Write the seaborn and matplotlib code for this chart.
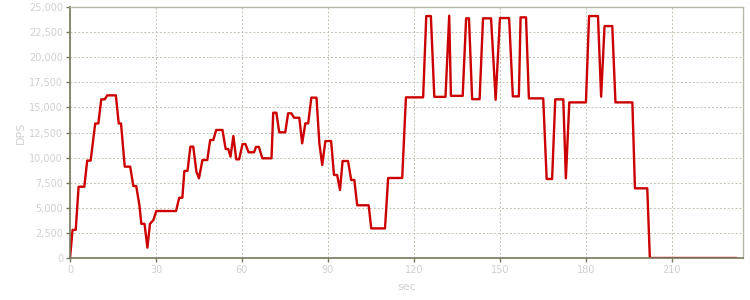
import matplotlib
matplotlib.use("Agg")
import matplotlib.pyplot as plt
from matplotlib.ticker import FuncFormatter
import seaborn as sns
import pandas as pd

sec = [0, 0.9, 2, 3, 5, 6, 7.2, 8.8, 9.9, 10.9, 12.1, 13, 16, 17, 17.8, 19.1, 21, 22.1, 23.1,
       24.2, 24.9, 26, 27, 27.9, 29.1, 30.1, 37, 38.1, 39.2, 39.9, 41, 42, 43, 44.1, 45,
       46.2, 47.9, 48.9, 50, 51, 53.2, 54.3, 55.2, 56, 57, 58, 59, 60.2, 61.2, 62.3, 64.2,
       64.9, 65.9, 67.1, 70.3, 70.9, 72, 73, 75.1, 76.1, 77.2, 78.2, 80, 81, 82.1, 83.1,
       84.2, 86, 87, 88, 89.1, 91.1, 92.1, 93.2, 94.2, 95.1, 97, 98.1, 99.2, 100.2, 104.2,
       105.1, 109.9, 111, 115.9, 117.2, 123.2, 124.3, 125.9, 127.1, 131, 132.3, 132.9, 137,
       138.2, 139.2, 140.3, 142.9, 144.1, 146.9, 148.5, 150, 153.2, 154.5, 156.6, 157.2,
       159.1, 160.1, 165.1, 166.3, 168.2, 169.3, 172.1, 173, 174.2, 180, 181.1, 184.2,
       185.3, 186.5, 189.2, 190.3, 196.2, 197.1, 201.4, 202.3, 232.5]
dps = [0, 2800, 2800, 7100, 7100, 9700, 9700, 13400, 13400, 15800, 15800, 16200, 16200,
       13400, 13400, 9100, 9100, 7170, 7170, 5280, 3400, 3400, 1030, 3400, 3780, 4680, 4680,
       6000, 6000, 8670, 8670, 11090, 11090, 8600, 7940, 9760, 9760, 11750, 11750, 12750,
       12750, 10860, 10860, 10100, 12150, 9830, 9830, 11350, 11350, 10530, 10530, 11060,
       11060, 9930, 9930, 14470, 14470, 12520, 12520, 14410, 14410, 13970, 13970, 11420,
       13410, 13410, 15970, 15970, 11420, 9260, 11650, 11650, 8270, 8270, 6770, 9660, 9660,
       7770, 7770, 5250, 5250, 2950, 2950, 7970, 7970, 16000, 16000, 24100, 24100, 16050,
       16050, 24130, 16150, 16150, 23870, 23870, 15820, 15820, 23870, 23870, 15760, 23900,
       23900, 16100, 16100, 23970, 23970, 15900, 15900, 7870, 7870, 15800, 15800, 7940,
       15500, 15500, 24100, 24100, 16070, 23100, 23100, 15500, 15500, 6940, 6940, 0, 0]

x_ticks = [0, 30, 60, 90, 120, 150, 180, 210]
y_ticks = [0, 2500, 5000, 7500, 10000, 12500, 15000, 17500, 20000, 22500, 25000]

df = pd.DataFrame({"sec": sec, "DPS": dps})

sns.set_theme(style="white")
plt.rcParams['font.family'] = ['DejaVu Sans']

fig = plt.figure(figsize=(7.5, 3), dpi=100)
ax = fig.add_axes([70/750, 42/300, 673/750, 251/300])

sns.lineplot(data=df, x="sec", y="DPS", ax=ax, color="#cc0000", linewidth=1.7,
             estimator=None, sort=False)

ax.set_xlim(0, 234.8)
ax.set_ylim(0, 25000)
ax.set_xticks(x_ticks)
ax.set_yticks(y_ticks)
ax.yaxis.set_major_formatter(FuncFormatter(lambda v, p: f"{int(v):,}"))

ax.grid(True, which="major", linestyle=(0, (2, 2)), color="#c2c2b2", linewidth=0.7)
ax.set_axisbelow(True)

for s in ["left", "bottom"]:
    ax.spines[s].set_color("#78785c")
    ax.spines[s].set_linewidth(1.2)
for s in ["top", "right"]:
    ax.spines[s].set_color("#b8b8a8")
    ax.spines[s].set_linewidth(1.0)

ax.tick_params(axis="both", which="major", length=3, width=1, color="#78785c",
               labelcolor="#d0d0d0", labelsize=7, pad=2, direction="out")
ax.tick_params(axis="x", bottom=True)
ax.tick_params(axis="y", left=True)

ax.set_xlabel("sec", color="#d0d0d0", fontsize=8, labelpad=5)
ax.set_ylabel("DPS", color="#d0d0d0", fontsize=8, labelpad=2)

fig.savefig("out.png", dpi=100)
